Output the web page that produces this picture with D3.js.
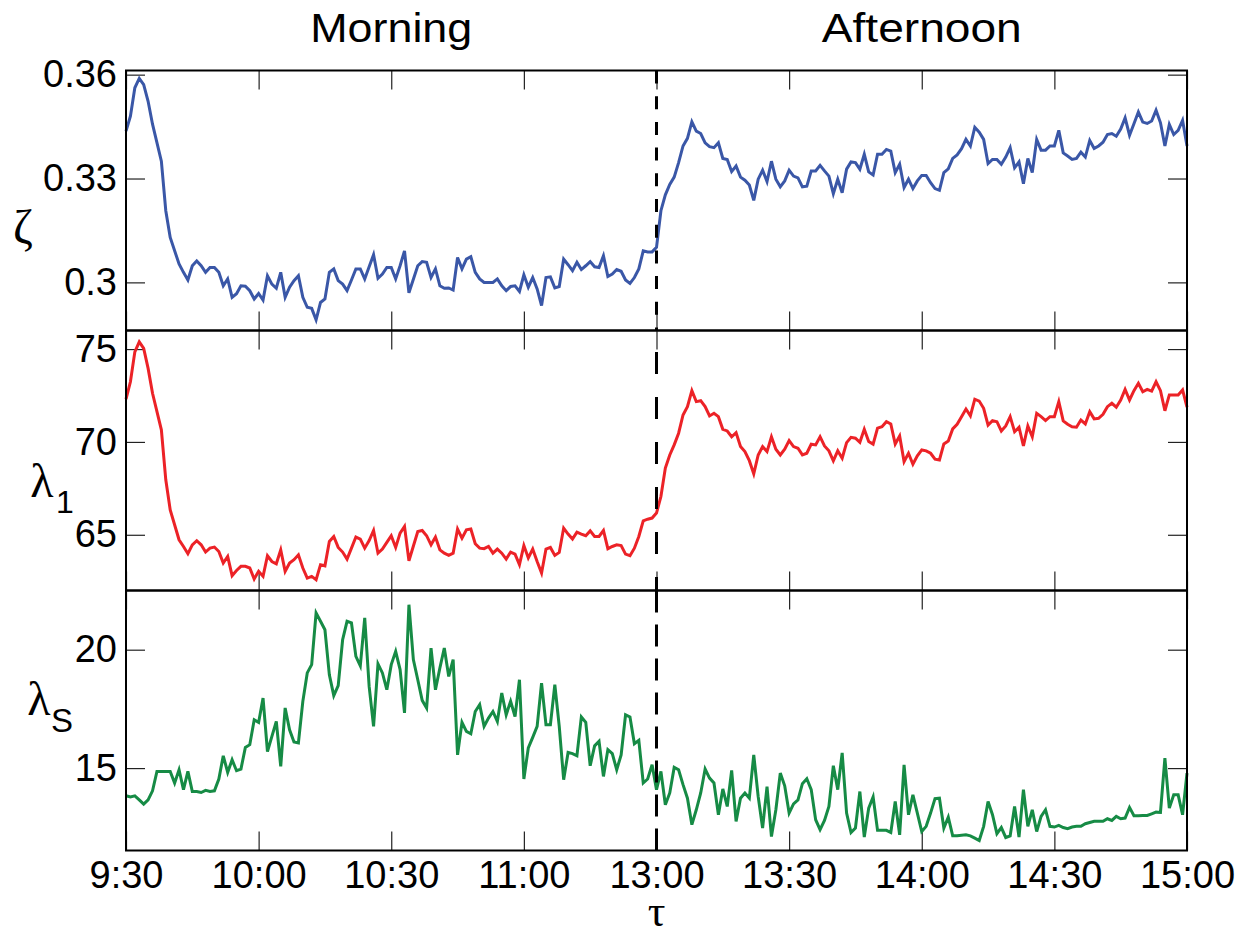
<!DOCTYPE html>
<html>
<head>
<meta charset="utf-8">
<title>Morning / Afternoon</title>
<script src="https://cdnjs.cloudflare.com/ajax/libs/d3/7.8.5/d3.min.js"></script>
<style>
body { margin: 0; background: #fff; }
svg { display: block; }
.axis text { font-family: "Liberation Sans", Arial, sans-serif; font-size: 38px; fill: #000; }
.axis line { stroke: #222; stroke-width: 1.2px; }
.axis path { display: none; }
.title { font-family: "Liberation Sans", Arial, sans-serif; font-size: 40px; fill: #000; }
.greek { font-family: "Liberation Serif", "DejaVu Serif", serif; fill: #000; }
.sub { font-family: "Liberation Sans", Arial, sans-serif; fill: #000; }
</style>
</head>
<body>
<div id="chart"></div>
<script>

// minutes of trading: 0 = 9:30, 120 = 11:30 / 13:00, 240 = 15:00
var tickMinutes = [0, 30, 60, 90, 120, 150, 180, 210, 240];
var tickLabels = ["9:30", "10:00", "10:30", "11:00", "13:00", "13:30", "14:00", "14:30", "15:00"];
var sessions = ["Morning", "Afternoon"];

// one value per minute, null where no point could be read
var zeta = [
  .3437, .348, .3562, .3589, .3571, .3523, .3457, null, .335, .3207,
  .313, null, .3053, .3029, .3007, .3048, .3062, .3048, .3029, .3043,
  .3043, .3029, .299, .301, .2957, .2967, .299, .2989, .2976, .2952,
  .2968, .2949, .3019, .2995, .2983, .3029, .2957, .2986, .3005, .3019,
  .2957, .2928, .2925, .2892, .2942, .2952, .3029, .3039, .3005, .2995,
  .2976, .3007, .3039, .3039, .301, .3045, .308, .3012, .3024, .3043,
  .3043, .301, .3048, .3091, .297, null, .3048, .306, .3058, .3014,
  .3039, .299, .2983, .2984, .2978, .3072, .3039, .3067, .3074, .3029,
  .301, .300, null, .300, .301, .299, .2976, .2988, .299, .2974,
  .3022, .2986, .3014, .2981, .2933, .3014, .3016, .2984, .2988, .3067,
  .3051, .3034, .3058, .3037, .3048, .306, .3045, .3043, .3077, .3017,
  .3024, .3037, .3032, .3007, .2997, .3014, .3039, .3091, .3088, .3088,
  .3101, .3207, .3253, .3283, .3304, .3346, .3394, .3416, .3464, .3437,
  .343, .3403, .3392, .3389, .3403, .3358, .3355, .332, .3336, .3304,
  .3295, .3281, .3237, .3298, .3324, .3291, .335, .3298, .3276, .3293,
  .3324, .3307, .3302, .3276, .3278, .3322, .3322, .3338, .3322, .3307,
  .3256, .3298, .3259, .3327, .3348, .3346, .3327, .337, .3319, .331,
  .337, .337, .3384, .3379, .3317, .3341, .3274, .3298, .3271, .3293,
  .3309, .3309, .3288, .3271, .3266, .3317, .3328, .3358, .3368, .3386,
  .3413, .3394, .3448, .3434, .3413, .3343, .3355, .3355, .3341, .3362,
  .3389, .3331, .3348, .3285, .3358, .3317, .3413, .3382, .3382, .3394,
  .3394, .3439, .3374, .3365, .3355, .3358, .3376, .3362, .341, .3387,
  .3394, .3405, .3427, .343, .3422, .3443, .3475, .3425, .3458, .3492,
  .3463, .3459, .3466, .3497, .3461, .3394, .3456, .3427, .3439, .3468,
  .3394
];

var lambda1 = [
  72.30, 73.24, 74.85, 75.39, 75.04, 73.96, 72.62, null, 70.65, 67.96,
  66.34, null, 64.73, 64.37, 63.98, 64.46, 64.68, 64.46, 64.07, 64.28,
  64.34, 64.10, 63.48, 63.83, 62.80, 63.08, 63.30, 63.30, 63.21, 62.62,
  63.03, 62.76, 63.87, 63.56, 63.44, 64.19, 63.03, 63.48, 63.66, 63.92,
  63.21, 62.67, 62.76, 62.58, 63.39, 63.33, 64.64, 64.91, 64.32, 64.07,
  63.69, 64.28, 64.88, 64.77, 64.28, 64.69, 65.23, 64.01, 64.23, 64.59,
  64.95, 64.32, 65.09, 65.45, 63.60, null, 65.18, 65.23, 64.95, 64.46,
  64.88, 64.19, 64.01, 63.89, 64.01, 65.31, 64.82, 65.27, 65.31, 64.52,
  64.28, 64.25, 64.37, 64.01, 64.23, 64.01, 63.69, 64.07, 63.96, 63.39,
  64.42, 63.75, 64.23, 63.56, 62.94, 64.23, 64.32, 63.89, 64.05, 65.36,
  65.04, 64.77, 65.14, 65.04, 64.95, 65.21, 64.91, 64.91, 65.23, 64.25,
  64.37, 64.46, 64.42, 63.96, 63.87, 64.28, 64.91, 65.75, 65.84, 65.90,
  66.17, 67.06, 68.59, 69.30, 69.84, 70.47, 71.45, 71.90, 72.76, 72.17,
  72.22, 71.90, 71.40, 71.54, 71.36, 70.68, 70.59, 70.28, 70.50, 69.75,
  69.48, 68.99, 68.28, 69.30, 69.75, 69.48, 70.28, 69.61, 69.30, 69.61,
  70.07, 69.75, 69.66, 69.30, 69.39, 69.88, 69.84, 70.28, 69.78, 69.52,
  68.98, 69.52, 69.12, 69.96, 70.25, 70.20, 69.98, 70.68, 70.02, 69.88,
  70.74, 70.82, 71.09, 70.97, 69.89, 70.32, 68.94, 69.39, 68.80, 69.25,
  69.57, 69.52, 69.39, 69.07, 69.03, 69.89, 70.05, 70.70, 70.95, 71.36,
  71.77, 71.40, 72.30, 72.20, 71.81, 70.91, 71.15, 71.09, 70.59, 70.86,
  71.36, 70.55, 70.79, 69.78, 70.86, 70.28, 71.54, 71.36, 71.15, 71.36,
  71.36, 72.17, 71.13, 70.95, 70.82, 70.79, 71.18, 70.97, 71.63, 71.24,
  71.27, 71.49, 71.90, 72.08, 71.87, 72.26, 72.83, 72.26, 72.76, 73.16,
  72.70, 72.83, 72.74, 73.24, 72.76, 71.68, 72.53, 72.53, 72.53, 72.80,
  71.87
];

var lambdaS = [
  13.83, 13.78, 13.83, 13.66, 13.48, 13.66, 14.04, 14.86, 14.86, null,
  14.86, 14.37, 14.93, 14.09, 14.86, 14.01, 14.01, 13.97, 14.06, 14.01,
  14.04, 14.54, 15.52, 14.82, 15.35, 14.89, 14.96, 15.87, 15.99, 17.04,
  16.93, 17.96, 15.70, 16.34, 16.97, 15.07, 17.54, 16.62, 16.10, 16.06,
  17.82, 19.02, 19.37, 21.55, 21.20, 20.84, 18.94, 18.06, 18.48, 20.42,
  21.20, 21.13, 19.72, 19.32, 21.34, 18.45, 16.76, 19.40, 19.02, 18.31,
  19.37, 19.93, 19.16, 17.33, 21.90, 19.58, 18.73, 17.86, 17.54, 20.07,
  18.31, 19.23, 20.07, 18.87, 19.58, 15.56, 16.93, 16.55, 16.45, 17.39,
  17.68, 16.76, 17.11, 17.39, 16.97, 18.17, 17.25, 17.82, 17.18, 18.73,
  14.54, 15.85, 16.30, 16.76, 18.59, 16.83, 16.83, 18.52, 16.76, 14.51,
  15.66, 15.61, 15.52, 17.16, 16.93, 15.10, 15.94, 16.13, 14.65, 15.78,
  15.61, 14.93, 15.56, 17.25, 17.16, 16.03, 16.17, 14.37, 14.54, 15.14,
  14.09, 14.86, 13.45, 13.95, 15.03, 14.93, 14.30, 13.73, 12.61, 13.24,
  13.95, 14.96, 14.58, 14.37, 13.03, 14.12, 13.38, 14.90, 12.75, 13.73,
  13.95, 13.73, 15.56, 13.80, 12.47, 14.22, 12.11, 13.24, 14.79, 14.25,
  13.10, 13.49, 13.66, 14.34, 14.55, 14.09, 12.82, 12.40, 12.79, 13.38,
  15.10, 14.09, 15.64, 13.10, 12.28, 12.47, 14.01, 12.09, 13.31, 13.78,
  12.37, 12.37, 12.37, 12.28, 13.59, 12.18, 15.14, 13.03, 13.87, 13.10,
  12.32, 12.54, 13.10, 13.71, 13.73, 12.47, 12.93, 12.14, 12.14, null,
  12.18, 12.14, 12.04, 11.94, 12.54, 13.59, 13.03, 12.23, 12.49, 12.07,
  12.14, 13.38, 12.09, 14.09, 12.54, 13.24, 12.32, 12.96, 13.24, 12.54,
  12.51, 12.58, 12.49, 12.44, 12.51, 12.54, 12.54, 12.65, 12.70, 12.75,
  12.75, 12.75, 12.86, 12.79, 12.96, 12.86, 12.89, 13.34, 12.99, 12.99,
  13.00, 13.00, 13.07, 13.14, 13.13, 15.42, 13.31, 13.87, 13.87, 13.03,
  14.79
];

var zetaTicks = [0.30, 0.33, 0.36], zetaTickLabels = ["0.3", "0.33", "0.36"];
var lambda1Ticks = [65, 70, 75];
var lambdaSTicks = [15, 20];

var width = 1242, height = 938;
var left = 126, right = 1187;
var panelTop = 70.5, panelH = 260;
var tickLen = 19;

var panels = [
  { values: zeta, domain: [0.2861, 0.3612], ticks: zetaTicks, labels: zetaTickLabels,
    color: "#3a57a7", dash: "13,12.7", dashOffset: 0 },
  { values: lambda1, domain: [62.0, 76.0], ticks: lambda1Ticks, labels: null,
    color: "#ec2227", dash: "22,23", dashOffset: -21.5 },
  { values: lambdaS, domain: [11.52, 22.5], ticks: lambdaSTicks, labels: null,
    color: "#168b45", dash: "22,12", dashOffset: 0 }
];

var x = d3.scaleLinear().domain([0, 240]).range([left, right]);

var svg = d3.select("#chart")
  .append("svg")
  .attr("width", width)
  .attr("height", height);

panels.forEach(function(p, i) {
  var top = panelTop + i * panelH, bottom = top + panelH;
  var y = d3.scaleLinear().domain(p.domain).range([bottom, top]);
  var g = svg.append("g");
  var last = i === panels.length - 1;

  // axes: ticks point inward on all four sides
  g.append("g").attr("class", "axis")
    .attr("transform", "translate(0," + bottom + ")")
    .call(d3.axisBottom(x).tickValues(tickMinutes).tickSize(-tickLen).tickPadding(11)
      .tickFormat(function(d, k) { return last ? tickLabels[k] : ""; }));
  g.append("g").attr("class", "axis")
    .attr("transform", "translate(0," + top + ")")
    .call(d3.axisTop(x).tickValues(tickMinutes).tickSize(-tickLen).tickFormat(""));
  g.append("g").attr("class", "axis")
    .attr("transform", "translate(" + left + ",0)")
    .call(d3.axisLeft(y).tickValues(p.ticks).tickSize(-tickLen).tickPadding(9)
      .tickFormat(function(d, k) { return p.labels ? p.labels[k] : d; }));
  g.append("g").attr("class", "axis")
    .attr("transform", "translate(" + right + ",0)")
    .call(d3.axisRight(y).tickValues(p.ticks).tickSize(-tickLen).tickFormat(""));

  var pts = p.values.map(function(v, t) { return { t: t, v: v }; })
    .filter(function(d) { return d.v !== null; });

  g.append("path")
    .datum(pts)
    .attr("fill", "none")
    .attr("stroke", p.color)
    .attr("stroke-width", 3)
    .attr("stroke-linejoin", "miter")
    .attr("d", d3.line().x(function(d) { return x(d.t); }).y(function(d) { return y(d.v); }));

  // break between the sessions
  g.append("line")
    .attr("x1", x(120)).attr("x2", x(120))
    .attr("y1", top).attr("y2", bottom)
    .attr("stroke", "#000")
    .attr("stroke-width", 3)
    .attr("stroke-dasharray", p.dash)
    .attr("stroke-dashoffset", p.dashOffset);

  g.append("rect")
    .attr("x", left).attr("y", top)
    .attr("width", right - left).attr("height", panelH)
    .attr("fill", "none")
    .attr("stroke", "#000")
    .attr("stroke-width", 2);
});

// session titles
svg.selectAll(".title")
  .data(sessions)
  .enter().append("text")
  .attr("class", "title")
  .attr("x", function(d, i) { return x(60 + i * 120); })
  .attr("y", 42)
  .attr("text-anchor", "middle")
  .attr("textLength", function(d, i) { return i === 0 ? 162 : 200; })
  .attr("lengthAdjust", "spacingAndGlyphs")
  .text(function(d) { return d; });

// axis names
svg.append("text").attr("class", "greek")
  .attr("x", 23).attr("y", 243).attr("text-anchor", "middle")
  .style("font-size", "48px").text("ζ");

svg.append("text").attr("class", "greek")
  .attr("x", 42).attr("y", 497).attr("text-anchor", "middle")
  .style("font-size", "48px").text("λ");
svg.append("text").attr("class", "sub")
  .attr("x", 56).attr("y", 513)
  .style("font-size", "32px").text("1");

svg.append("text").attr("class", "greek")
  .attr("x", 39).attr("y", 715).attr("text-anchor", "middle")
  .style("font-size", "48px").text("λ");
svg.append("text").attr("class", "sub")
  .attr("x", 51).attr("y", 732)
  .style("font-size", "33px").text("S");

svg.append("text").attr("class", "greek")
  .attr("x", x(120)).attr("y", 926).attr("text-anchor", "middle")
  .style("font-size", "44px").text("τ");

</script>
</body>
</html>
